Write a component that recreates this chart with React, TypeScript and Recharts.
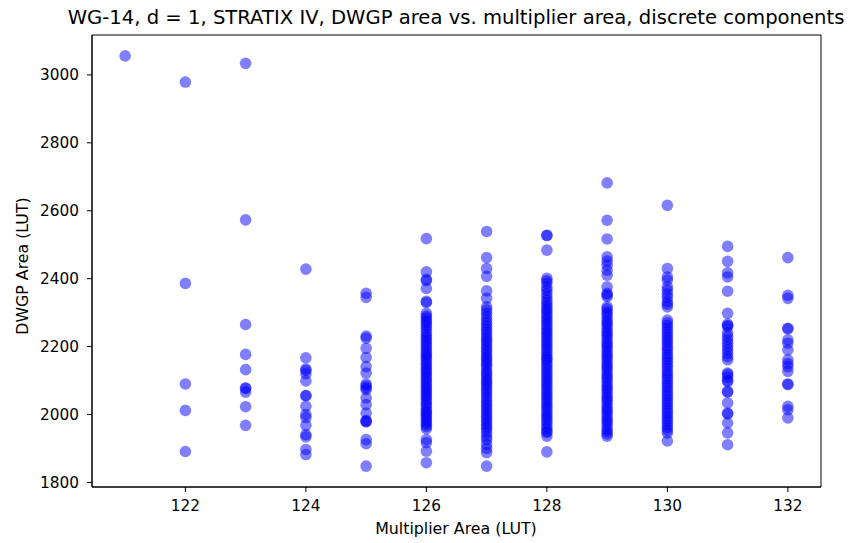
import React from "react";
import { ScatterChart, Scatter, XAxis, YAxis, ReferenceArea } from "recharts";

const multiplierAreas = [121, 122, 123, 124, 125, 126, 127, 128, 129, 130, 131, 132];

const y121 = [3056];
const y122 = [2979, 2386, 2090, 2012, 1891];
const y123 = [3034, 2573, 2265, 2177, 2132, 2078, 2077, 2066, 2023, 1968];
const y124 = [2428, 2167, 2134, 2130, 2120, 2099, 2056, 2055, 2024, 2000, 1991, 1968, 1941, 1934, 1897, 1882];
const y125 = [2357, 2345, 2231, 2225, 2195, 2168, 2141, 2122, 2090, 2084, 2078, 2073, 2049, 2029, 2004, 1982, 1980, 1978, 1926, 1914, 1848];
const y126 = [2518, 2420, 2398, 2394, 2371, 2333, 2330, 2298, 2290, 2284, 2276, 2270, 2262, 2254, 2245, 2236, 2229, 2221, 2214, 2206, 2199, 2190, 2183, 2176, 2170, 2163, 2155, 2148, 2140, 2133, 2126, 2120, 2112, 2105, 2098, 2090, 2083, 2076, 2069, 2062, 2055, 2048, 2040, 2033, 2026, 2018, 2010, 2005, 1998, 1992, 1985, 1978, 1971, 1965, 1958, 1926, 1917, 1892, 1858];
const y127 = [2539, 2462, 2430, 2407, 2364, 2342, 2317, 2308, 2298, 2288, 2278, 2269, 2260, 2251, 2243, 2234, 2226, 2218, 2211, 2202, 2194, 2186, 2178, 2170, 2163, 2155, 2148, 2141, 2131, 2123, 2116, 2108, 2100, 2093, 2085, 2077, 2069, 2061, 2052, 2043, 2035, 2027, 2019, 2011, 2003, 1995, 1987, 1979, 1971, 1963, 1956, 1946, 1935, 1926, 1912, 1900, 1888, 1848];
const y128 = [2528, 2527, 2484, 2401, 2394, 2387, 2375, 2366, 2356, 2346, 2336, 2328, 2320, 2312, 2305, 2297, 2289, 2281, 2274, 2266, 2258, 2250, 2242, 2235, 2227, 2219, 2211, 2204, 2196, 2188, 2180, 2172, 2165, 2161, 2152, 2145, 2137, 2129, 2121, 2114, 2106, 2098, 2090, 2083, 2075, 2067, 2059, 2052, 2044, 2036, 2028, 2021, 2013, 2005, 1997, 1990, 1982, 1974, 1966, 1958, 1950, 1947, 1936, 1890];
const y129 = [2682, 2572, 2517, 2464, 2452, 2440, 2425, 2410, 2376, 2357, 2352, 2347, 2317, 2311, 2302, 2295, 2286, 2277, 2270, 2263, 2254, 2245, 2238, 2231, 2222, 2213, 2206, 2199, 2190, 2181, 2174, 2167, 2158, 2149, 2142, 2135, 2126, 2117, 2110, 2103, 2094, 2085, 2078, 2071, 2062, 2053, 2046, 2039, 2030, 2021, 2014, 2007, 1998, 1989, 1982, 1975, 1966, 1957, 1950, 1943, 1936];
const y130 = [2616, 2430, 2405, 2396, 2376, 2366, 2355, 2345, 2333, 2325, 2317, 2278, 2270, 2262, 2253, 2245, 2236, 2228, 2220, 2212, 2203, 2195, 2187, 2178, 2170, 2162, 2154, 2145, 2137, 2128, 2120, 2112, 2104, 2095, 2087, 2079, 2070, 2062, 2054, 2045, 2037, 2029, 2020, 2012, 2004, 1995, 1987, 1979, 1970, 1962, 1954, 1946, 1922];
const y131 = [2495, 2451, 2417, 2405, 2363, 2298, 2266, 2262, 2259, 2240, 2230, 2220, 2210, 2200, 2190, 2180, 2170, 2161, 2122, 2118, 2110, 2100, 2097, 2068, 2066, 2034, 2004, 2002, 1975, 1946, 1911];
const y132 = [2462, 2351, 2342, 2254, 2252, 2220, 2210, 2190, 2161, 2150, 2141, 2127, 2090, 2088, 2024, 2014, 1990];

const dwgpColumns = [y121, y122, y123, y124, y125, y126, y127, y128, y129, y130, y131, y132];

const xTicks = [122, 124, 126, 128, 130, 132];
const yTicks = [1800, 2000, 2200, 2400, 2600, 2800, 3000];

const data = multiplierAreas.flatMap((x, i) => dwgpColumns[i].map((y) => ({ x, y })));

const FONT = "DejaVu Sans, sans-serif";
const X_DOMAIN: [number, number] = [120.45, 132.55];
const Y_DOMAIN: [number, number] = [1786.5, 3117.5];

const Dot = (props: any) => {
  const { cx, cy } = props;
  if (cx == null || cy == null) return null;
  return <circle cx={cx} cy={cy} r={5.8} fill="#0000ff" fillOpacity={0.5} stroke="none" />;
};

export default function App() {
  return (
    <div style={{ position: "absolute", left: 0, top: 0, width: 852, height: 543, background: "#fff" }}>
      <ScatterChart
        width={852}
        height={543}
        margin={{ top: 35, right: 31, bottom: 26, left: 0 }}
      >
        <XAxis
          type="number"
          dataKey="x"
          domain={X_DOMAIN}
          ticks={xTicks}
          allowDataOverflow
          height={30}
          tickSize={5}
          tickMargin={8}
          stroke="#000"
          tick={{ fill: "#000", fontSize: 15.3, fontFamily: FONT }}
        />
        <YAxis
          type="number"
          dataKey="y"
          domain={Y_DOMAIN}
          ticks={yTicks}
          allowDataOverflow
          width={92}
          tickSize={5}
          tickMargin={8}
          stroke="#000"
          tick={{ fill: "#000", fontSize: 15.3, fontFamily: FONT }}
        />
        <ReferenceArea
          x1={X_DOMAIN[0]}
          x2={X_DOMAIN[1]}
          y1={Y_DOMAIN[0]}
          y2={Y_DOMAIN[1]}
          fill="none"
          stroke="#000"
          strokeWidth={1}
          fillOpacity={0}
        />
        <Scatter data={data} shape={<Dot />} isAnimationActive={false} />
      </ScatterChart>
      <svg
        width={852}
        height={543}
        style={{ position: "absolute", left: 0, top: 0, pointerEvents: "none" }}
      >
        <text x={456} y={24} textAnchor="middle" fontFamily={FONT} fontSize={19.6} fill="#000">
          WG-14, d = 1, STRATIX IV, DWGP area vs. multiplier area, discrete components
        </text>
        <text x={456} y={534} textAnchor="middle" fontFamily={FONT} fontSize={15.8} fill="#000">
          Multiplier Area (LUT)
        </text>
        <text
          x={0}
          y={0}
          transform="translate(28,266) rotate(-90)"
          textAnchor="middle"
          fontFamily={FONT}
          fontSize={15.8}
          fill="#000"
        >
          DWGP Area (LUT)
        </text>
      </svg>
    </div>
  );
}
